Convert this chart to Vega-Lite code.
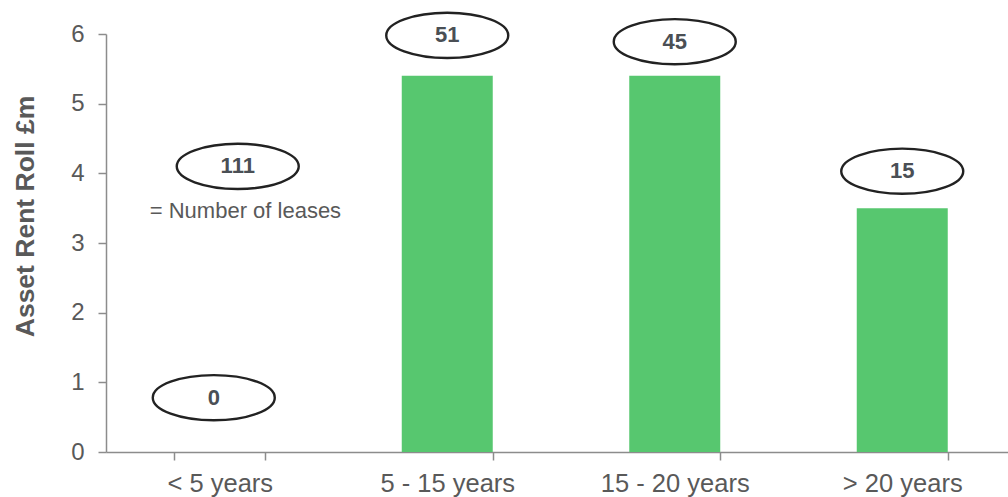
{
  "$schema": "https://vega.github.io/schema/vega-lite/v6.json",
  "width": 902,
  "height": 418,
  "autosize": "none",
  "padding": {"left": 106, "top": 34, "right": 0, "bottom": 45},
  "config": {
    "view": {"stroke": null},
    "font": "Liberation Sans"
  },
  "datasets": {
    "bars": [
      {"term": "< 5 years", "rent": 0},
      {"term": "5 - 15 years", "rent": 5.4},
      {"term": "15 - 20 years", "rent": 5.4},
      {"term": "> 20 years", "rent": 3.5}
    ],
    "ovals": [
      {"term": "5 - 15 years", "pos": 5.98, "leases": "51"},
      {"term": "15 - 20 years", "pos": 5.89, "leases": "45"},
      {"term": "> 20 years", "pos": 4.03, "leases": "15"}
    ],
    "zero": [
      {"term": "< 5 years", "pos": 0.78, "leases": "0"}
    ],
    "key": [
      {"term": "< 5 years", "pos": 4.1, "leases": "111", "note": "=  Number of leases", "notepos": 3.46}
    ]
  },
  "encoding": {
    "x": {
      "field": "term",
      "type": "nominal",
      "sort": ["< 5 years", "5 - 15 years", "15 - 20 years", "> 20 years"],
      "scale": {"range": [0, 910], "paddingInner": 0.6, "paddingOuter": 0.3},
      "axis": {
        "title": null,
        "labelAngle": 0,
        "labelFontSize": 25.5,
        "labelColor": "#595959",
        "labelPadding": 11,
        "tickBand": "extent",
        "tickSize": 8,
        "tickColor": "#8c8c8c",
        "domainColor": "#8c8c8c",
        "domainWidth": 1.5,
        "tickWidth": 1.5
      }
    }
  },
  "layer": [
    {
      "data": {"name": "bars"},
      "mark": {"type": "bar", "color": "#57c76f"},
      "encoding": {
        "y": {
          "field": "rent",
          "type": "quantitative",
          "scale": {"domain": [0, 6], "nice": false},
          "axis": {
            "values": [0, 1, 2, 3, 4, 5, 6],
            "format": "d",
            "grid": false,
            "title": "Asset Rent Roll £m",
            "titleFontSize": 26.5,
            "titleFontWeight": "bold",
            "titleColor": "#595959",
            "titleAngle": -90,
            "titleAlign": "center",
            "titleBaseline": "middle",
            "titleX": -81,
            "titleY": 182,
            "labelFontSize": 24,
            "labelColor": "#595959",
            "labelPadding": 14,
            "tickSize": 8,
            "tickColor": "#8c8c8c",
            "domainColor": "#8c8c8c",
            "domainWidth": 1.5,
            "tickWidth": 1.5
          }
        }
      }
    },
    {
      "data": {"name": "ovals"},
      "mark": {
        "type": "point",
        "shape": "M -1 0 A 1 0.37 0 1 1 1 0 A 1 0.37 0 1 1 -1 0 Z",
        "size": 14884,
        "filled": true,
        "fill": "white",
        "stroke": "#222222",
        "strokeWidth": 2.4,
        "opacity": 1
      },
      "encoding": {
        "y": {"field": "pos", "type": "quantitative"}
      }
    },
    {
      "data": {"name": "ovals"},
      "mark": {"type": "text", "fontSize": 22, "fontWeight": "bold", "color": "#4a4f55", "baseline": "middle"},
      "encoding": {
        "y": {"field": "pos", "type": "quantitative"},
        "text": {"field": "leases"}
      }
    },
    {
      "data": {"name": "zero"},
      "mark": {
        "type": "point",
        "shape": "M -1.098 0 A 1 0.37 0 1 1 0.902 0 A 1 0.37 0 1 1 -1.098 0 Z",
        "size": 14884,
        "filled": true,
        "fill": "white",
        "stroke": "#222222",
        "strokeWidth": 2.4,
        "opacity": 1
      },
      "encoding": {
        "y": {"field": "pos", "type": "quantitative"}
      }
    },
    {
      "data": {"name": "zero"},
      "mark": {"type": "text", "fontSize": 22, "fontWeight": "bold", "color": "#4a4f55", "baseline": "middle", "dx": -6},
      "encoding": {
        "y": {"field": "pos", "type": "quantitative"},
        "text": {"field": "leases"}
      }
    },
    {
      "data": {"name": "key"},
      "mark": {
        "type": "point",
        "shape": "M -0.705 0 A 1 0.37 0 1 1 1.295 0 A 1 0.37 0 1 1 -0.705 0 Z",
        "size": 14884,
        "filled": true,
        "fill": "white",
        "stroke": "#222222",
        "strokeWidth": 2.4,
        "opacity": 1
      },
      "encoding": {
        "y": {"field": "pos", "type": "quantitative"}
      }
    },
    {
      "data": {"name": "key"},
      "mark": {"type": "text", "fontSize": 22, "fontWeight": "bold", "color": "#4a4f55", "baseline": "middle", "dx": 18},
      "encoding": {
        "y": {"field": "pos", "type": "quantitative"},
        "text": {"field": "leases"}
      }
    },
    {
      "data": {"name": "key"},
      "mark": {"type": "text", "fontSize": 22, "color": "#595959", "baseline": "middle", "align": "left", "dx": -70},
      "encoding": {
        "y": {"field": "notepos", "type": "quantitative"},
        "text": {"field": "note"}
      }
    }
  ]
}
